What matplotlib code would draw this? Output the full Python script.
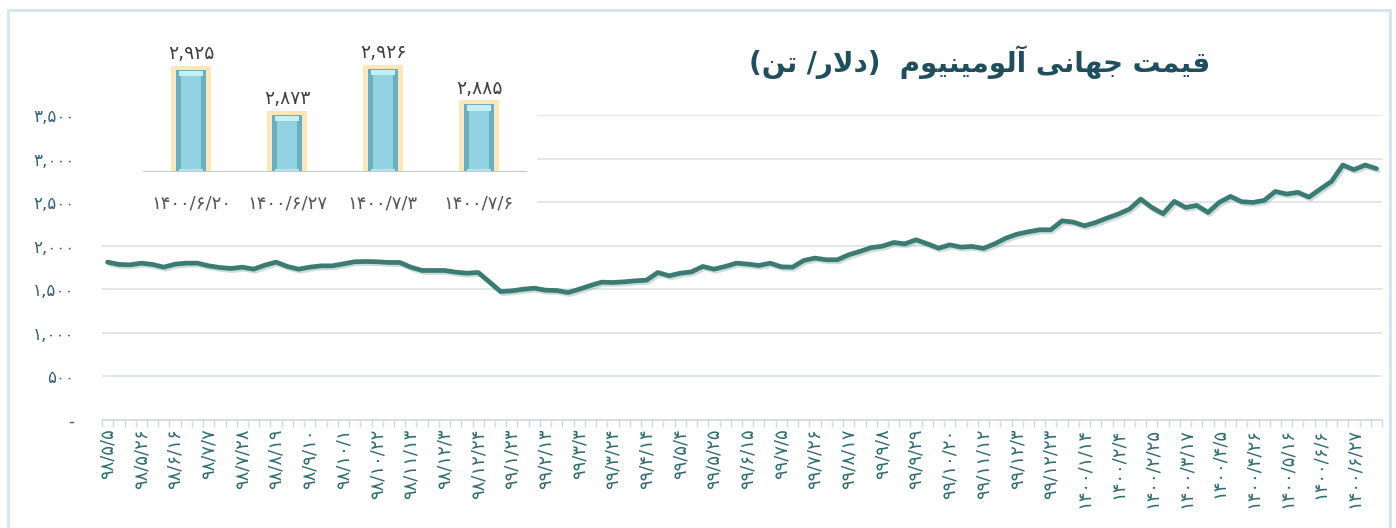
import numpy as np
import matplotlib
matplotlib.use("Agg")
import matplotlib.pyplot as plt
import matplotlib.patheffects as pe
from matplotlib.patches import Rectangle

# weekly world aluminium price (USD / ton)
price = [1812, 1785, 1781, 1800, 1785, 1754, 1789, 1800, 1800, 1769,
         1750, 1739, 1754, 1731, 1777, 1812, 1762, 1731, 1754, 1769,
         1769, 1792, 1816, 1819, 1816, 1808, 1808, 1754, 1716, 1716,
         1716, 1697, 1685, 1693, 1585, 1474, 1482, 1501, 1513, 1490,
         1486, 1463, 1501, 1544, 1582, 1578, 1586, 1597, 1605, 1693,
         1655, 1685, 1700, 1762, 1731, 1762, 1800, 1789, 1773, 1800,
         1758, 1754, 1831, 1858, 1839, 1839, 1896, 1935, 1978, 1995,
         2037, 2022, 2068, 2022, 1972, 2010, 1984, 1992, 1969, 2022,
         2087, 2133, 2160, 2183, 2183, 2286, 2271, 2229, 2267, 2317,
         2363, 2420, 2535, 2439, 2367, 2509, 2439, 2462, 2382, 2497,
         2566, 2505, 2497, 2520, 2623, 2593, 2612, 2558, 2650, 2738,
         2925, 2873, 2926, 2885]

# every third week gets a label
date_labels = ["98/5/5", "98/5/26", "98/6/16", "98/7/7", "98/7/28", "98/8/19",
               "98/9/10", "98/10/1", "98/10/22", "98/11/13", "98/12/3", "98/12/24",
               "99/1/23", "99/2/13", "99/3/3", "99/3/24", "99/4/14", "99/5/4",
               "99/5/25", "99/6/15", "99/7/5", "99/7/26", "99/8/17", "99/9/8",
               "99/9/29", "99/10/20", "99/11/12", "99/12/3", "99/12/23",
               "1400/1/14", "1400/2/4", "1400/2/25", "1400/3/17", "1400/4/5",
               "1400/4/26", "1400/5/16", "1400/6/6", "1400/6/27"]

bar_dates = ["1400/6/20", "1400/6/27", "1400/7/3", "1400/7/6"]
bar_vals = [2925, 2873, 2926, 2885]

# title "قیمت جهانی آلومینیوم (دلار/ تن)" already shaped, in visual order
title = ("(\uFEE6\uFE97 /\uFEAD\uFEFB\uFEA9)  "
         "\uFEE1\uFEEE\uFEF4\uFEE8\uFEF4\uFEE3\uFEEE\uFEDF\uFE81 "
         "\uFEF0\uFEE7\uFE8E\uFEEC\uFE9F "
         "\uFE96\uFEE4\uFEF4\uFED7")

FA = str.maketrans("0123456789", "۰۱۲۳۴۵۶۷۸۹")


def fa(s):
    return str(s).translate(FA)


def fa_num(v):
    return fa(f"{v:,}")


plt.rcParams['font.family'] = ['DejaVu Sans']

fig = plt.figure(figsize=(13.96, 5.28), dpi=100)
fig.patch.set_facecolor('white')

# outer frame
fig.add_artist(Rectangle((8 / 1396, -0.05), 1382 / 1396, 518 / 528 + 0.05,
                         transform=fig.transFigure, fill=False,
                         edgecolor='#d3e5f1', lw=2, zorder=0))

ax = fig.add_axes([0.0731, 0.2045, 0.9169, 0.5777])
x = np.arange(len(price))
ax.plot(x, price, color='#3b7b74', lw=3.4, solid_joinstyle='round',
        solid_capstyle='round', zorder=3,
        path_effects=[pe.SimpleLineShadow(offset=(1.2, -1.5), alpha=0.25,
                                          shadow_color='#3b7b74'),
                      pe.Normal()])
ax.set_xlim(-0.5, len(price) - 0.5)
ax.set_ylim(0, 3500)
ax.set_yticks(range(0, 3501, 500))
ax.set_yticklabels(['-'] + [fa_num(v) for v in range(500, 3501, 500)])
ax.grid(axis='y', color='#dce5ec', lw=1.3)
ax.set_axisbelow(True)
for s in ['left', 'right', 'top']:
    ax.spines[s].set_visible(False)
ax.spines['bottom'].set_color('#d3dde6')
ax.spines['bottom'].set_linewidth(1.3)
ax.tick_params(axis='y', length=0, pad=20, labelsize=12, labelcolor='#34617a')

ax.set_xticks(x[::3])
ax.set_xticklabels([fa(d) for d in date_labels],
                   rotation=90, fontsize=13, color='#2f6c70')
ax.set_xticks(np.arange(-0.5, len(price)), minor=True)
ax.tick_params(axis='x', which='major', length=0, pad=6)
ax.tick_params(axis='x', which='minor', length=5, color='#cfd9e2', width=1)

# white box behind the inset
fig.add_artist(Rectangle((0.0645, 0.5909), 0.3202, 0.3674,
                         transform=fig.transFigure, facecolor='white',
                         edgecolor='none', zorder=1))

axb = fig.add_axes([0.10244, 0.6742, 0.27507, 0.2689], zorder=2)
axb.patch.set_alpha(0)
base = 2807
xb = np.arange(len(bar_vals))
vals = np.array(bar_vals)
axb.bar(xb, vals - base + 5, bottom=base, width=0.42, color='#fde6b8')
axb.bar(xb, vals - base, bottom=base, width=0.31, color='#6aafc1')
axb.bar(xb, vals - base - 10, bottom=base + 3, width=0.2, color='#93d2df')
axb.bar(xb, 6, bottom=vals - 7, width=0.24, color='#c4eff7')
axb.bar(xb, 4, bottom=base, width=0.24, color='#b5e6ef')
axb.axhline(base, color='#c8c8c8', lw=1.5)
for i, v in enumerate(bar_vals):
    axb.annotate(fa_num(v), (i, v), xytext=(0, 5), textcoords='offset points',
                 ha='center', va='bottom', fontsize=13.5, color='#404040',
                 annotation_clip=False)
axb.set_xlim(-0.5, len(bar_vals) - 0.5)
axb.set_ylim(base, base + 164)
axb.set_xticks(xb)
axb.set_xticklabels([fa(d) for d in bar_dates], fontsize=13, color='#555555')
axb.set_yticks([])
axb.tick_params(axis='x', length=0, pad=16)
for s in axb.spines.values():
    s.set_visible(False)

fig.text(0.702, 0.883, title, fontsize=20, fontweight='bold', color='#1f4f5c',
         ha='center', va='center')

fig.savefig('out.png', dpi=100)
